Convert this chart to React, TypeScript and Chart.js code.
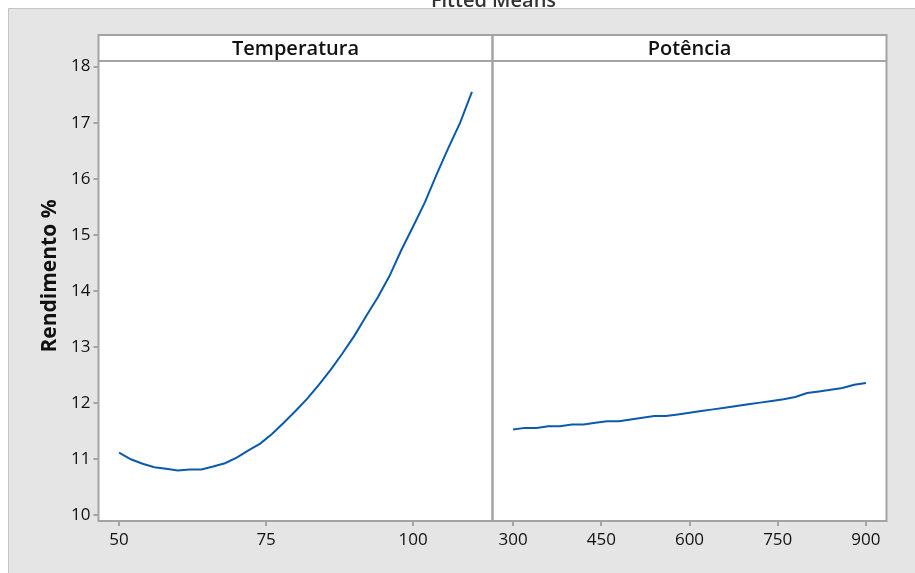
import React, { useEffect, useRef } from 'react';
import { Chart, registerables } from 'chart.js';

Chart.register(...registerables);

const chartTitle = 'Fitted Means';
const yTitle = 'Rendimento %';
const panelTitles = ['Temperatura', 'Potência'];

const temperatura = [50, 52, 54, 56, 58, 60, 62, 64, 66, 68, 70, 72, 74, 76, 78, 80, 82, 84, 86, 88, 90, 92, 94, 96, 98, 100, 102, 104, 106, 108, 110];
const rendTemperatura = [11.12, 11.0, 10.92, 10.86, 10.83, 10.8, 10.82, 10.82, 10.87, 10.93, 11.03, 11.16, 11.28, 11.45, 11.65, 11.86, 12.08, 12.33, 12.6, 12.89, 13.2, 13.55, 13.89, 14.27, 14.73, 15.15, 15.58, 16.08, 16.55, 17.0, 17.55];

const potencia = [300, 320, 340, 360, 380, 400, 420, 440, 460, 480, 500, 520, 540, 560, 580, 600, 620, 640, 660, 680, 700, 720, 740, 760, 780, 800, 820, 840, 860, 880, 900];
const rendPotencia = [11.53, 11.56, 11.56, 11.59, 11.59, 11.62, 11.62, 11.65, 11.68, 11.68, 11.71, 11.74, 11.77, 11.77, 11.8, 11.83, 11.86, 11.89, 11.92, 11.95, 11.98, 12.01, 12.04, 12.07, 12.11, 12.18, 12.21, 12.24, 12.27, 12.33, 12.36];

const yTicks = [10, 11, 12, 13, 14, 15, 16, 17, 18];
const tempTicks = [50, 75, 100];
const potTicks = [300, 450, 600, 750, 900];

const FONT = '"Open Sans", "Noto Sans", sans-serif';
const LINE = '#0b5aab';
const BORDER = '#a3a3a3';
const HEADER_TOP = 35;
const HEADER_BOTTOM = 61;

const decor = {
  id: 'decor',
  beforeDraw(chart: any) {
    const { ctx, chartArea: a } = chart;
    const W = chart.width;
    const H = chart.height;
    ctx.save();
    ctx.fillStyle = '#ffffff';
    ctx.fillRect(0, 0, W, H);
    ctx.fillStyle = '#333333';
    ctx.font = `600 20px ${FONT}`;
    ctx.textAlign = 'center';
    ctx.textBaseline = 'alphabetic';
    ctx.fillText(chartTitle, (a.left + a.right) / 2 + 1, 6.5);
    ctx.fillStyle = '#e5e5e5';
    ctx.fillRect(8, 8, W - 8, H - 8);
    ctx.strokeStyle = '#c6c6c6';
    ctx.lineWidth = 1;
    ctx.strokeRect(8.5, 8.5, W, H);
    ctx.fillStyle = '#ffffff';
    ctx.fillRect(a.left, HEADER_TOP, a.right - a.left, a.bottom - HEADER_TOP);
    ctx.restore();
  },
  afterDraw(chart: any) {
    const { ctx, chartArea: a } = chart;
    const panels = [chart.scales.x1, chart.scales.x2];
    ctx.save();
    ctx.strokeStyle = BORDER;
    ctx.lineWidth = 2;
    panels.forEach((s: any, i: number) => {
      ctx.strokeRect(s.left, HEADER_TOP, s.right - s.left, a.bottom - HEADER_TOP);
      ctx.beginPath();
      ctx.moveTo(s.left, HEADER_BOTTOM);
      ctx.lineTo(s.right, HEADER_BOTTOM);
      ctx.stroke();
      ctx.fillStyle = '#111111';
      ctx.font = `600 20px ${FONT}`;
      ctx.textAlign = 'center';
      ctx.textBaseline = 'alphabetic';
      ctx.fillText(panelTitles[i], (s.left + s.right) / 2, 55);
    });
    ctx.translate(55.5, 276);
    ctx.rotate(-Math.PI / 2);
    ctx.fillStyle = '#111111';
    ctx.font = `bold 21px ${FONT}`;
    ctx.textAlign = 'center';
    ctx.textBaseline = 'alphabetic';
    ctx.fillText(yTitle, 0, 0);
    ctx.restore();
  },
};

const tickFont = { family: FONT, size: 17 };

function xAxis(min: number, max: number, ticks: number[]) {
  return {
    type: 'linear',
    position: 'bottom',
    stack: 'panels',
    stackWeight: 1,
    min,
    max,
    border: { display: false },
    grid: { display: true, drawOnChartArea: false, drawTicks: true, tickLength: 5, color: BORDER, lineWidth: 2 },
    ticks: { font: tickFont, color: '#111111', padding: 4, maxRotation: 0, autoSkip: false },
    afterBuildTicks: (s: any) => { s.ticks = ticks.map((v) => ({ value: v })); },
    afterFit: (s: any) => { s.height = 52; },
  };
}

export default function App() {
  const ref = useRef<HTMLCanvasElement | null>(null);
  useEffect(() => {
    if (!ref.current) return;
    const chart = new Chart(ref.current, {
      type: 'line',
      data: {
        datasets: [
          {
            data: temperatura.map((t, i) => ({ x: t, y: rendTemperatura[i] })),
            xAxisID: 'x1',
            yAxisID: 'y',
            borderColor: LINE,
            borderWidth: 2,
            pointRadius: 0,
            tension: 0,
            fill: false,
          },
          {
            data: potencia.map((p, i) => ({ x: p, y: rendPotencia[i] })),
            xAxisID: 'x2',
            yAxisID: 'y',
            borderColor: LINE,
            borderWidth: 2,
            pointRadius: 0,
            tension: 0,
            fill: false,
          },
        ],
      },
      options: {
        animation: false,
        responsive: false,
        devicePixelRatio: 1,
        layout: { padding: { left: 0, right: 28.5, top: 61, bottom: 0 } },
        plugins: { legend: { display: false }, tooltip: { enabled: false }, title: { display: false } },
        scales: {
          x1: xAxis(46.5, 113.5, tempTicks),
          x2: xAxis(265, 935, potTicks),
          y: {
            type: 'linear',
            position: 'left',
            min: 9.9,
            max: 18.1,
            border: { display: false },
            grid: { display: true, drawOnChartArea: false, drawTicks: true, tickLength: 5, color: BORDER, lineWidth: 2 },
            ticks: { font: tickFont, color: '#111111', padding: 3 },
            afterBuildTicks: (s: any) => { s.ticks = yTicks.map((v) => ({ value: v })); },
            afterFit: (s: any) => { s.width = 98.5; },
          },
        },
      } as any,
      plugins: [decor],
    });
    return () => chart.destroy();
  }, []);
  return (
    <div style={{ position: 'absolute', left: 0, top: 0, width: 915, height: 573 }}>
      <canvas ref={ref} width={915} height={573} style={{ display: 'block', width: 915, height: 573 }} />
    </div>
  );
}
